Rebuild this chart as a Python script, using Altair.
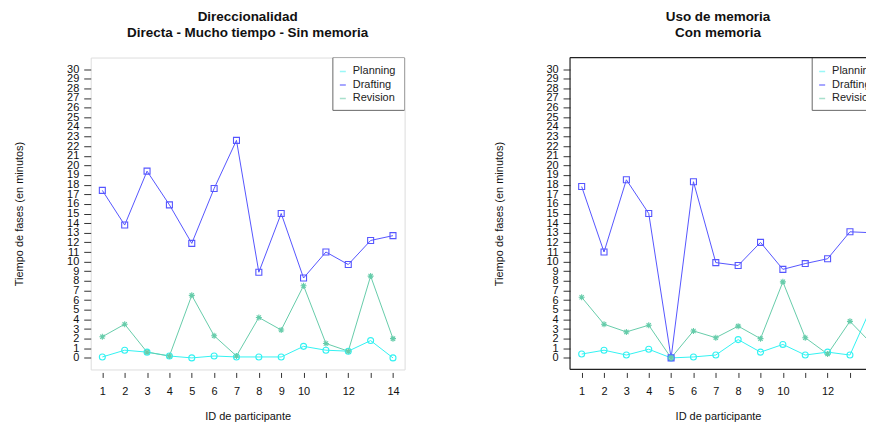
import altair as alt
import pandas as pd

participants = list(range(1, 15))
series_names = ["Planning", "Drafting", "Revision"]

left_title = ["Direccionalidad", "Directa - Mucho tiempo - Sin memoria"]
left_planning = [0.1, 0.8, 0.6, 0.2, 0.0, 0.2, 0.1, 0.1, 0.1, 1.2, 0.8, 0.7, 1.8, 0.0]
left_drafting = [17.4, 13.8, 19.4, 15.9, 11.9, 17.6, 22.6, 8.9, 15.0, 8.3, 11.0, 9.7, 12.2, 12.7]
left_revision = [2.2, 3.5, 0.6, 0.2, 6.5, 2.3, 0.2, 4.2, 2.9, 7.5, 1.5, 0.7, 8.5, 2.0]

right_title = ["Uso de memoria", "Con memoria"]
right_planning = [0.4, 0.8, 0.3, 0.9, 0.0, 0.1, 0.3, 1.9, 0.6, 1.4, 0.3, 0.6, 0.3, 5.5]
right_drafting = [17.8, 11.0, 18.5, 15.0, 0.0, 18.3, 9.9, 9.6, 12.0, 9.2, 9.8, 10.3, 13.1, 13.0]
right_revision = [6.3, 3.5, 2.7, 3.4, 0.0, 2.8, 2.1, 3.3, 2.0, 7.9, 2.1, 0.4, 3.8, 1.4]

y_ticks = list(range(0, 31))
x_ticks = list(range(1, 15))

colors = ["#33F2F2", "#5555FF", "#66CCAA"]
legend_colors = ["#99F8F8", "#8888FF", "#A8E0CC"]
asterisk = "M-1,0L1,0M0,-1L0,1M-0.72,-0.72L0.72,0.72M-0.72,0.72L0.72,-0.72"
shapes = ["circle", "square", asterisk]

FONT = "Liberation Sans"
FULL_W = 315
PX_PER_UNIT = FULL_W / 14.04
H = 313


def long_df(planning, drafting, revision):
    rows = []
    for name, vals in zip(series_names, [planning, drafting, revision]):
        for p, v in zip(participants, vals):
            rows.append({"id": p, "serie": name, "valor": v})
    return pd.DataFrame(rows)


def panel(title, planning, drafting, revision, width, boxed):
    df = long_df(planning, drafting, revision)
    xmax = 0.48 + width / PX_PER_UNIT
    tick_vals = [t for t in x_ticks if t <= xmax]
    label_cut = xmax - 0.3
    x = alt.X(
        "id:Q",
        scale=alt.Scale(domain=[0.48, xmax], nice=False, zero=False),
        axis=alt.Axis(
            values=tick_vals,
            labelExpr=(
                f"datum.value == 11 || datum.value == 13 || datum.value > {label_cut:.3f}"
                " ? '' : datum.label"
            ),
            title="ID de participante",
            grid=False,
            domain=False,
            offset=3,
            tickSize=5,
            labelPadding=8,
            titlePadding=14,
            labelFlush=False,
            labelOverlap=False,
            labelFont=FONT,
            titleFont=FONT,
            labelFontSize=11,
            titleFontSize=11,
            titleFontWeight="normal",
            labelColor="#111111",
            titleColor="#111111",
            tickColor="#333333",
        ),
    )
    y = alt.Y(
        "valor:Q",
        scale=alt.Scale(domain=[-1.2, 31.2], nice=False, zero=False),
        axis=alt.Axis(
            values=y_ticks,
            title="Tiempo de fases (en minutos)",
            grid=False,
            domain=False,
            tickSize=7,
            labelPadding=5,
            minExtent=24,
            maxExtent=24,
            titlePadding=42,
            labelFlush=False,
            labelOverlap=False,
            labelFont=FONT,
            titleFont=FONT,
            labelFontSize=11,
            titleFontSize=11,
            titleFontWeight="normal",
            labelColor="#111111",
            titleColor="#111111",
            tickColor="#333333",
        ),
    )
    color = alt.Color("serie:N", scale=alt.Scale(domain=series_names, range=colors), legend=None)
    shape = alt.Shape("serie:N", scale=alt.Scale(domain=series_names, range=shapes), legend=None)

    base = alt.Chart(df)
    lines = base.mark_line(strokeWidth=1, clip=True).encode(x=x, y=y, color=color, detail="serie:N")
    points = base.mark_point(filled=False, size=36, strokeWidth=1.1, opacity=1, clip=True).encode(
        x=x, y=y, color=color, shape=shape
    )
    layers = [lines, points]

    one = pd.DataFrame({"k": [0]})
    # legend box (drawn inside the plot, clipped by the plot area)
    layers.append(
        alt.Chart(one).mark_rect(fill="white", stroke="#666666", strokeWidth=1, clip=True).encode(
            x=alt.value(243), x2=alt.value(FULL_W), y=alt.value(0), y2=alt.value(53)
        )
    )
    for i, name in enumerate(series_names):
        yy = 14 + 13.5 * i
        layers.append(
            alt.Chart(one).mark_rule(strokeWidth=1.5, clip=True).encode(
                x=alt.value(250), x2=alt.value(256), y=alt.value(yy),
                color=alt.value(legend_colors[i])
            )
        )
        layers.append(
            alt.Chart(one).mark_text(
                align="left", baseline="middle", fontSize=11, font=FONT, color="#222222", clip=True
            ).encode(x=alt.value(263), y=alt.value(yy), text=alt.value(name))
        )

    if not boxed:
        # open-sided frame: top, left and bottom edges (right edge lies off the page)
        layers.append(alt.Chart(one).mark_rule(color="#222222", strokeWidth=1.2).encode(
            x=alt.value(0), y=alt.value(0), y2=alt.value(H)))
        layers.append(alt.Chart(one).mark_rule(color="#222222", strokeWidth=1.2).encode(
            x=alt.value(0), x2=alt.value(width), y=alt.value(0)))
        layers.append(alt.Chart(one).mark_rule(color="#222222", strokeWidth=1.2).encode(
            x=alt.value(0), x2=alt.value(width), y=alt.value(H)))

    props = dict(
        width=width,
        height=H,
        title=alt.TitleParams(
            title, fontSize=13.5, fontWeight="bold", font=FONT, anchor="middle",
            offset=18, lineHeight=16, color="#111111"
        ),
    )
    if not boxed:
        props["view"] = alt.ViewBackground(stroke=None)
    return alt.layer(*layers).properties(**props)


chart = alt.hconcat(
    panel(left_title, left_planning, left_drafting, left_revision, FULL_W, True),
    panel(right_title, right_planning, right_drafting, right_revision, 297, False),
    spacing=88,
    padding={"left": 5, "top": 0, "right": 0, "bottom": 0},
).configure_view(
    stroke="#222222", strokeWidth=1.2
).configure(background="white")

chart.save("out.html", embed_options={"renderer": "svg", "actions": False})
